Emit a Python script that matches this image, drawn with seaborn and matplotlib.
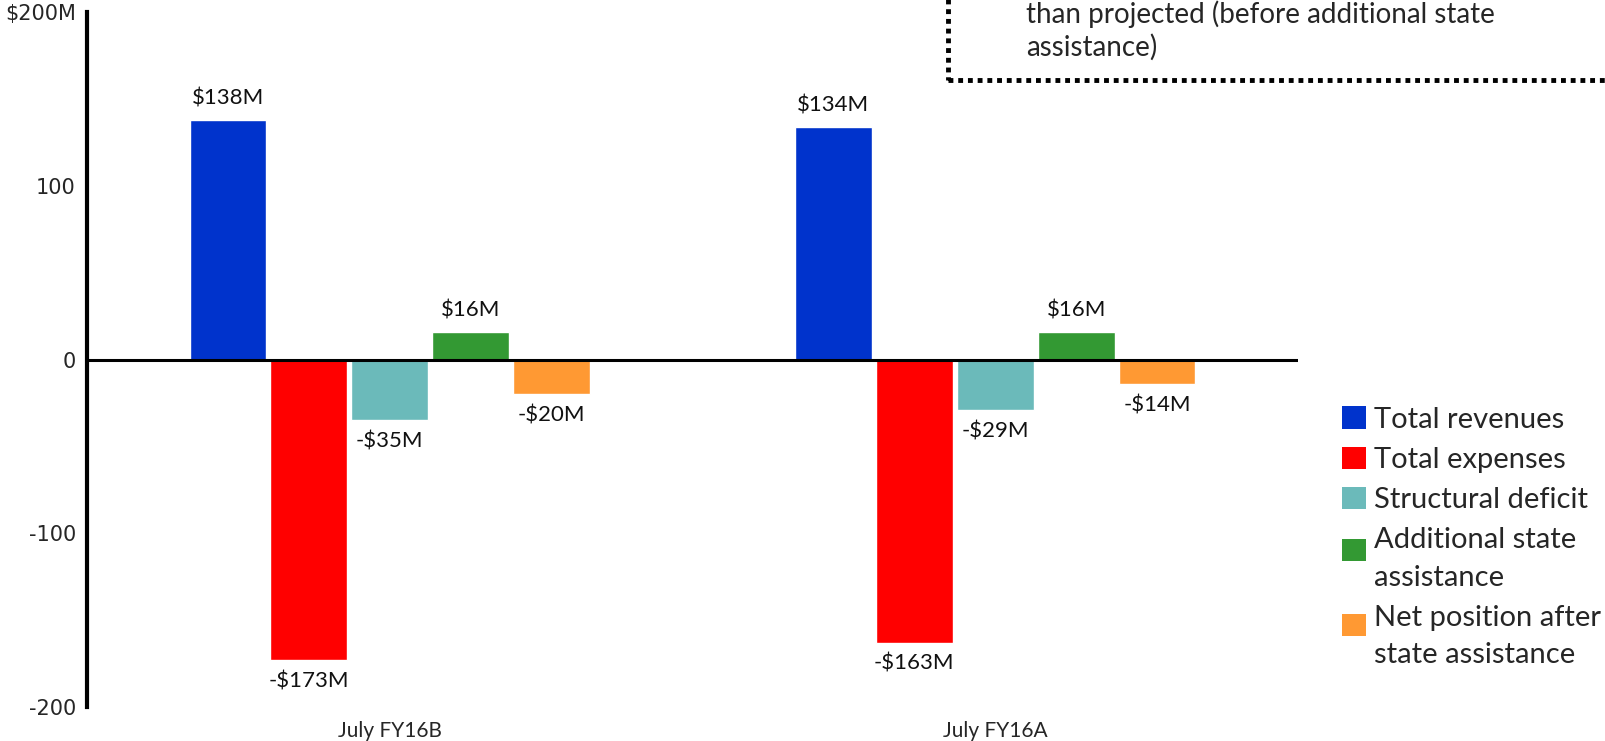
import numpy as np
import pandas as pd
import seaborn as sns
import matplotlib.pyplot as plt
from matplotlib.patches import Rectangle
from matplotlib.legend_handler import HandlerPatch

# Werte aus dem Diagramm (in Mio. $)
periods = ['July FY16B', 'July FY16A']
items = ['Total revenues', 'Total expenses', 'Structural deficit',
         'Additional state assistance', 'Net position after state assistance']
legend_labels = ['Total revenues', 'Total expenses', 'Structural deficit',
                 'Additional state\nassistance', 'Net position after\nstate assistance']
fy16b = [138, -173, -35, 16, -20]
fy16a = [134, -163, -29, 16, -14]
colors = ['#0033CC', '#FF0000', '#6BBABA', '#339933', '#FF9933']
y_ticks = [-200, -100, 0, 100, 200]
y_tick_labels = ['-200', '-100', '0', '100', '$200M']

df = pd.DataFrame({
    'period': np.repeat(periods, len(items)),
    'item': items * len(periods),
    'value': fy16b + fy16a,
})

sns.set_theme(style='white')
plt.rcParams['font.family'] = ['Lato', 'DejaVu Sans']

fig = plt.figure(figsize=(16.06, 7.41), dpi=100)
ax = fig.add_axes([0.0542, 0.046, 0.754, 0.9374])

sns.barplot(data=df, x='period', y='value', hue='item', hue_order=items,
            palette=colors, saturation=1, width=0.668, gap=0.05,
            errorbar=None, ax=ax, legend=False)

# Datenbeschriftungen
def fmt(v):
    return f'-${abs(v):.0f}M' if v < 0 else f'${v:.0f}M'

for cont in ax.containers:
    ax.bar_label(cont, labels=[fmt(b.get_height()) for b in cont],
                 padding=8, fontsize=16, color='#111111')

ax.set_xlim(-0.5, 1.5)
ax.set_ylim(-200, 200)
ax.set_yticks(y_ticks)
ax.set_yticklabels(y_tick_labels, fontsize=15, family='DejaVu Sans')
ax.set_xlabel('')
ax.set_ylabel('')
ax.tick_params(axis='x', length=0, labelsize=15, pad=10)
ax.tick_params(axis='y', direction='out', length=7, width=2.5, color='black', pad=1)
for s in ['top', 'right', 'bottom']:
    ax.spines[s].set_visible(False)
ax.spines['left'].set_linewidth(3)
ax.spines['left'].set_color('black')
ax.axhline(0, color='black', linewidth=2.2, zorder=5)

# Legende: Quadrat bei zweizeiligen Einträgen auf Höhe der ersten Zeile
def square(dy):
    def f(legend, orig_handle, xdescent, ydescent, width, height, fontsize):
        return Rectangle((-xdescent, -ydescent + dy * fontsize), width, height)
    return HandlerPatch(patch_func=f)

handles = [Rectangle((0, 0), 1, 1, facecolor=c, edgecolor='none') for c in colors]
shifts = [0, 0, 0, 0.33, 0.42]
leg = fig.legend(handles, legend_labels, loc='upper left', bbox_to_anchor=(0.8195, 0.487),
                 frameon=False, fontsize=21, handlelength=0.8, handleheight=0.8,
                 handletextpad=0.3, labelspacing=0.48,
                 handler_map={h: square(s) for h, s in zip(handles, shifts)})
for t in leg.get_texts():
    t.set_linespacing(1.55)

# Hinweisbox oben rechts (oben abgeschnitten)
fig.patches.append(Rectangle((0.59, 0.892), 0.45, 0.3, transform=fig.transFigure,
                             fill=False, edgecolor='black', linewidth=3.5,
                             linestyle=(0, (1, 1))))
fig.text(0.639, 1.0, 'than projected (before additional state\nassistance)',
         fontsize=20, va='top', ha='left', linespacing=1.3)

fig.savefig('out.png', dpi=100)
